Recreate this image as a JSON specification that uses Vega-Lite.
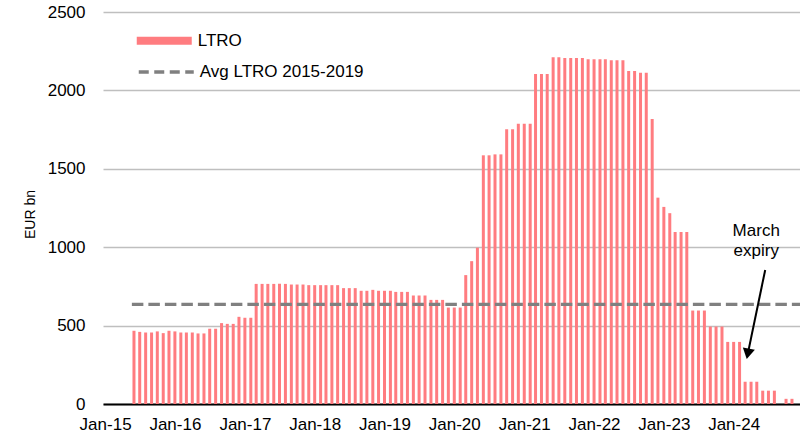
{
  "$schema": "https://vega.github.io/schema/vega-lite/v6.json",
  "width": 697,
  "height": 392,
  "autosize": {"type": "none"},
  "padding": {"left": 103, "top": 12, "right": 0, "bottom": 32},
  "config": {"view": {"stroke": null}, "font": "Liberation Sans"},
  "datasets": {
    "ltro": [
      {"date": "2015-06-01", "value": 467}, {"date": "2015-07-01", "value": 460}, {"date": "2015-08-01", "value": 456},
      {"date": "2015-09-01", "value": 456}, {"date": "2015-10-01", "value": 463}, {"date": "2015-11-01", "value": 452},
      {"date": "2015-12-01", "value": 467}, {"date": "2016-01-01", "value": 463}, {"date": "2016-02-01", "value": 456},
      {"date": "2016-03-01", "value": 456}, {"date": "2016-04-01", "value": 456}, {"date": "2016-05-01", "value": 450},
      {"date": "2016-06-01", "value": 450}, {"date": "2016-07-01", "value": 480}, {"date": "2016-08-01", "value": 480},
      {"date": "2016-09-01", "value": 516}, {"date": "2016-10-01", "value": 511}, {"date": "2016-11-01", "value": 511},
      {"date": "2016-12-01", "value": 556}, {"date": "2017-01-01", "value": 550}, {"date": "2017-02-01", "value": 550},
      {"date": "2017-03-01", "value": 766}, {"date": "2017-04-01", "value": 766}, {"date": "2017-05-01", "value": 766},
      {"date": "2017-06-01", "value": 766}, {"date": "2017-07-01", "value": 767}, {"date": "2017-08-01", "value": 766},
      {"date": "2017-09-01", "value": 762}, {"date": "2017-10-01", "value": 762}, {"date": "2017-11-01", "value": 762},
      {"date": "2017-12-01", "value": 758}, {"date": "2018-01-01", "value": 758}, {"date": "2018-02-01", "value": 758},
      {"date": "2018-03-01", "value": 758}, {"date": "2018-04-01", "value": 758}, {"date": "2018-05-01", "value": 758},
      {"date": "2018-06-01", "value": 739}, {"date": "2018-07-01", "value": 739}, {"date": "2018-08-01", "value": 739},
      {"date": "2018-09-01", "value": 722}, {"date": "2018-10-01", "value": 722}, {"date": "2018-11-01", "value": 728},
      {"date": "2018-12-01", "value": 722}, {"date": "2019-01-01", "value": 722}, {"date": "2019-02-01", "value": 722},
      {"date": "2019-03-01", "value": 715}, {"date": "2019-04-01", "value": 715}, {"date": "2019-05-01", "value": 715},
      {"date": "2019-06-01", "value": 692}, {"date": "2019-07-01", "value": 692}, {"date": "2019-08-01", "value": 692},
      {"date": "2019-09-01", "value": 664}, {"date": "2019-10-01", "value": 664}, {"date": "2019-11-01", "value": 664},
      {"date": "2019-12-01", "value": 615}, {"date": "2020-01-01", "value": 615}, {"date": "2020-02-01", "value": 615},
      {"date": "2020-03-01", "value": 822}, {"date": "2020-04-01", "value": 911}, {"date": "2020-05-01", "value": 997},
      {"date": "2020-06-01", "value": 1586}, {"date": "2020-07-01", "value": 1586}, {"date": "2020-08-01", "value": 1592},
      {"date": "2020-09-01", "value": 1592}, {"date": "2020-10-01", "value": 1752}, {"date": "2020-11-01", "value": 1752},
      {"date": "2020-12-01", "value": 1787}, {"date": "2021-01-01", "value": 1787}, {"date": "2021-02-01", "value": 1787},
      {"date": "2021-03-01", "value": 2104}, {"date": "2021-04-01", "value": 2104}, {"date": "2021-05-01", "value": 2104},
      {"date": "2021-06-01", "value": 2212}, {"date": "2021-07-01", "value": 2212}, {"date": "2021-08-01", "value": 2206},
      {"date": "2021-09-01", "value": 2206}, {"date": "2021-10-01", "value": 2206}, {"date": "2021-11-01", "value": 2206},
      {"date": "2021-12-01", "value": 2199}, {"date": "2022-01-01", "value": 2199}, {"date": "2022-02-01", "value": 2199},
      {"date": "2022-03-01", "value": 2199}, {"date": "2022-04-01", "value": 2193}, {"date": "2022-05-01", "value": 2193},
      {"date": "2022-06-01", "value": 2193}, {"date": "2022-07-01", "value": 2123}, {"date": "2022-08-01", "value": 2123},
      {"date": "2022-09-01", "value": 2112}, {"date": "2022-10-01", "value": 2112}, {"date": "2022-11-01", "value": 1817},
      {"date": "2022-12-01", "value": 1316}, {"date": "2023-01-01", "value": 1257}, {"date": "2023-02-01", "value": 1217},
      {"date": "2023-03-01", "value": 1097}, {"date": "2023-04-01", "value": 1097}, {"date": "2023-05-01", "value": 1097},
      {"date": "2023-06-01", "value": 596}, {"date": "2023-07-01", "value": 596}, {"date": "2023-08-01", "value": 596},
      {"date": "2023-09-01", "value": 494}, {"date": "2023-10-01", "value": 494}, {"date": "2023-11-01", "value": 494},
      {"date": "2023-12-01", "value": 396}, {"date": "2024-01-01", "value": 396}, {"date": "2024-02-01", "value": 396},
      {"date": "2024-03-01", "value": 142}, {"date": "2024-04-01", "value": 142}, {"date": "2024-05-01", "value": 142},
      {"date": "2024-06-01", "value": 85}, {"date": "2024-07-01", "value": 85}, {"date": "2024-08-01", "value": 85},
      {"date": "2024-10-01", "value": 33}, {"date": "2024-11-01", "value": 33}
    ],
    "avg": [{"start": "2015-05-21", "end": "2024-12-13", "value": 635}],
    "arrow": [{"x1": "2024-06-14", "y1": 855, "x2": "2024-03-15", "y2": 320}],
    "head": [{"date": "2024-03-15", "value": 320}],
    "note": [
      {"date": "2024-04-28", "value": 1106, "text": "March"},
      {"date": "2024-04-28", "value": 978, "text": "expiry"}
    ]
  },
  "layer": [
    {
      "data": {"name": "ltro"},
      "mark": {"type": "bar", "size": 3},
      "encoding": {
        "x": {
          "field": "date", "type": "temporal",
          "scale": {"type": "utc", "nice": false, "padding": 0, "domain": [{"year": 2014, "month": 12, "date": 21, "utc": true}, {"year": 2024, "month": 12, "date": 13, "utc": true}]},
          "axis": {
            "title": null, "tickCount": {"interval": "year", "step": 1}, "format": "%b-%y",
            "grid": false, "ticks": false, "domainColor": "#000000", "domainWidth": 2,
            "labelPadding": 12, "labelFontSize": 17, "labelColor": "#000000",
            "labelFlush": false, "labelOverlap": false, "labelFont": "Liberation Sans"
          }
        },
        "y": {
          "field": "value", "type": "quantitative",
          "scale": {"domain": [0, 2500], "nice": false, "padding": 0},
          "axis": {
            "title": "EUR bn", "values": [0, 500, 1000, 1500, 2000, 2500], "format": "d",
            "grid": true, "gridColor": "#BFBFBF", "gridWidth": 1.3,
            "domain": false, "ticks": false, "labelPadding": 18,
            "labelFontSize": 17, "labelColor": "#000000", "labelFont": "Liberation Sans",
            "titleFontSize": 14, "titleFontWeight": "normal", "titleColor": "#000000",
            "titleFont": "Liberation Sans", "titlePadding": 10, "titleY": 202
          }
        },
        "fill": {
          "datum": "LTRO", "type": "nominal",
          "scale": {"domain": ["LTRO"], "range": ["#FF7C80"]},
          "legend": {
            "title": null, "orient": "none", "legendX": 33.75, "legendY": 1.25,
            "symbolType": "M-1,-0.145H1V0.145H-1Z", "symbolSize": 3025, "symbolStrokeWidth": 0,
            "padding": 0, "labelFontSize": 17, "labelColor": "#000000",
            "labelFont": "Liberation Sans", "labelOffset": 6, "labelLimit": 400,
            "symbolOpacity": 1
          }
        }
      }
    },
    {
      "data": {"name": "avg"},
      "mark": {"type": "rule", "strokeDash": [11.5, 5], "strokeWidth": 3.3},
      "encoding": {
        "x": {"field": "start", "type": "temporal"},
        "x2": {"field": "end"},
        "y": {"field": "value", "type": "quantitative"},
        "stroke": {
          "datum": "Avg LTRO 2015-2019", "type": "nominal",
          "scale": {"domain": ["Avg LTRO 2015-2019"], "range": ["#808080"]},
          "legend": {
            "title": null, "orient": "none", "legendX": 33.75, "legendY": 30.5,
            "symbolType": "stroke", "symbolSize": 3025, "symbolStrokeWidth": 3.3,
            "symbolDash": [10, 5.5], "padding": 0, "labelFontSize": 17, "labelColor": "#000000",
            "labelFont": "Liberation Sans", "labelOffset": 4, "labelLimit": 400,
            "symbolOpacity": 1
          }
        }
      }
    },
    {
      "data": {"name": "arrow"},
      "mark": {"type": "rule", "strokeWidth": 2, "color": "#000000"},
      "encoding": {
        "x": {"field": "x1", "type": "temporal"},
        "x2": {"field": "x2"},
        "y": {"field": "y1", "type": "quantitative"},
        "y2": {"field": "y2"}
      }
    },
    {
      "data": {"name": "head"},
      "mark": {"type": "point", "shape": "triangle-down", "filled": true, "size": 150, "angle": 11.6, "color": "#000000", "opacity": 1},
      "encoding": {
        "x": {"field": "date", "type": "temporal"},
        "y": {"field": "value", "type": "quantitative"}
      }
    },
    {
      "data": {"name": "note"},
      "mark": {"type": "text", "fontSize": 17, "font": "Liberation Sans", "align": "center", "baseline": "middle", "color": "#000000"},
      "encoding": {
        "x": {"field": "date", "type": "temporal"},
        "y": {"field": "value", "type": "quantitative"},
        "text": {"field": "text"}
      }
    }
  ]
}
